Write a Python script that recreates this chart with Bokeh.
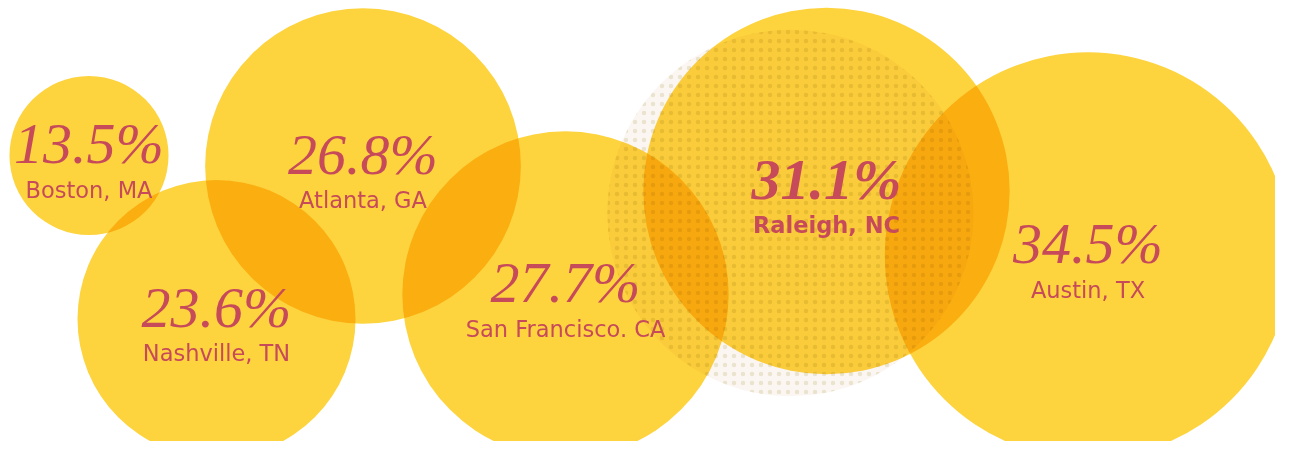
from bokeh.plotting import figure
from bokeh.models import ColumnDataSource, Range1d, CustomJS, InlineStyleSheet
from bokeh.core.properties import value
from bokeh.document import Document
from bokeh.embed import file_html
from bokeh.resources import INLINE

# ---- data ----
cities = ["Boston, MA", "Atlanta, GA", "Nashville, TN", "San Francisco. CA", "Raleigh, NC", "Austin, TX"]
values = [13.5, 26.8, 23.6, 27.7, 31.1, 34.5]
value_labels = ["13.5%", "26.8%", "23.6%", "27.7%", "31.1%", "34.5%"]
highlight = "Raleigh, NC"

# ---- layout (bubble positions, page pixels) ----
cx = [88.5, 362.5, 216, 565, 826, 1087.5]
cy = [155, 165.5, 318.5, 294, 190.5, 255]
px_per_pct = 5.89          # radius scale
shadow_dx, shadow_dy = -36, 22

YELLOW = "#FDD33E"
RED = "#C64A5A"

radius = [v * px_per_pct for v in values]
src = ColumnDataSource(dict(
    x=cx, y=cy, r=radius, city=cities, lab=value_labels,
    vy=[y - 12 for y in cy], ly=[y + 34 for y in cy],
    vstyle=["bold italic" if c == highlight else "italic" for c in cities],
    lstyle=["bold" if c == highlight else "normal" for c in cities],
))

hi = cities.index(highlight)
shadow = ColumnDataSource(dict(x=[cx[hi] + shadow_dx], y=[cy[hi] + shadow_dy], r=[radius[hi]]))

p = figure(width=1275, height=441, output_backend="svg", toolbar_location=None,
           x_range=Range1d(0, 1275), y_range=Range1d(441, 0),
           min_border=0, outline_line_color=None, background_fill_color="white",
           border_fill_color="white")
p.axis.visible = False
p.grid.visible = False

# textured halo behind the highlighted bubble
p.circle(x="x", y="y", radius="r", source=shadow, fill_color="#fbf4f0", fill_alpha=0.8,
         line_color=None, hatch_pattern="dot", hatch_color="#c4bf7c", hatch_alpha=0.3,
         hatch_scale=9, hatch_weight=2.5)

p.circle(x="x", y="y", radius="r", source=src, fill_color=YELLOW, fill_alpha=1.0, line_color=None)

p.text(x="x", y="vy", text="lab", source=src, text_font=value("Liberation Serif"),
       text_font_style="vstyle", text_font_size="58px", text_color=RED,
       text_align="center", text_baseline="alphabetic")
p.text(x="x", y="ly", text="city", source=src, text_font=value("DejaVu Sans"),
       text_font_style="lstyle", text_font_size="22.5px", text_color=RED,
       text_align="center", text_baseline="alphabetic")

css = "svg path{mix-blend-mode:multiply}"
p.stylesheets = [InlineStyleSheet(css=css)]

doc = Document()
doc.add_root(p)
doc.js_on_event("document_ready", CustomJS(args=dict(css=css), code="""
function inject(root){
  root.querySelectorAll('*').forEach(function(e){
    if (e.shadowRoot){
      if (!e.shadowRoot.querySelector('style.mbm')){
        const s = document.createElement('style');
        s.className = 'mbm';
        s.textContent = css;
        e.shadowRoot.appendChild(s);
      }
      inject(e.shadowRoot);
    }
  });
}
inject(document);
setTimeout(function(){ inject(document); }, 30);
setTimeout(function(){ inject(document); }, 200);
"""))

open("out.html", "w").write(file_html(p, INLINE))
